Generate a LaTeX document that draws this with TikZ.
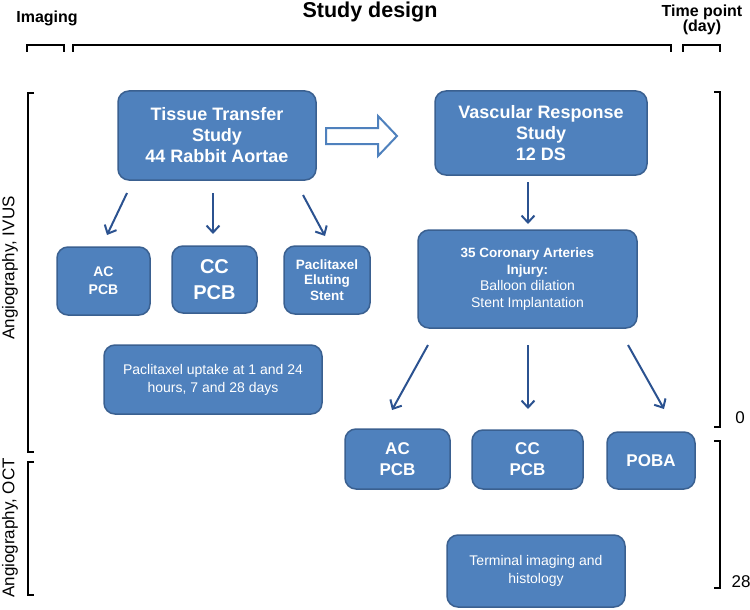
\documentclass[tikz,border=0pt]{standalone}
\usepackage{fontspec}
\setmainfont{Liberation Sans}
\usetikzlibrary{arrows.meta,calc}
\definecolor{boxfill}{HTML}{4F81BD}
\definecolor{boxline}{HTML}{3A6090}
\definecolor{arrowc}{HTML}{2B5290}
\newcommand\myfs[2]{\fontsize{#1}{#2}\selectfont}
\newcommand\regline[1]{{\mdseries\myfs{14}{16.7}#1}}
\tikzset{
  box/.style={draw=boxline, fill=boxfill, line width=1.5pt, rounded corners=11pt,
    text=white, align=center, inner sep=0pt},
  flow/.style={draw=arrowc, line width=2pt,
    -{Straight Barb[length=7pt,width=13pt,line width=2pt]}},
  brk/.style={line width=2pt},
  lbl/.style={inner sep=0pt, text=black},
}
\begin{document}
\begin{tikzpicture}[x=1pt,y=-1pt]
\useasboundingbox (0,0) rectangle (750,610);

% headings
\node[lbl, anchor=base, font=\bfseries\myfs{16}{19}] (himg) at (47,22.5) {Imaging};
\node[lbl, anchor=base, font=\bfseries\myfs{21.5}{25}] (hsd) at (370,18) {Study design};
\node[lbl, anchor=base, font=\bfseries\myfs{16}{19}] (htp) at (702,16.5) {Time point};
\node[lbl, anchor=base, font=\bfseries\myfs{16}{19}] (hday) at (702,32) {(day)};

% top brackets
\draw[brk] (27,52) -- (27,45) -- (64,45) -- (64,52);
\draw[brk] (73,52) -- (73,45) -- (671,45) -- (671,52);
\draw[brk] (683,52) -- (683,45) -- (720,45) -- (720,52);

% left brackets
\draw[brk] (34,93) -- (28,93) -- (28,452) -- (34,452);
\draw[brk] (34,462) -- (28,462) -- (28,595) -- (34,595);
\node[lbl, rotate=90, font=\myfs{17}{20}] (ivus) at (10,268) {Angiography, IVUS};
\node[lbl, rotate=90, font=\myfs{17}{20}] (oct) at (10,528) {Angiography, OCT};

% right brackets
\draw[brk] (714,92) -- (720,92) -- (720,427) -- (714,427);
\draw[brk] (714,441) -- (720,441) -- (720,588) -- (714,588);
\node[lbl, font=\myfs{17}{20}] (t0) at (740,418) {0};
\node[lbl, font=\myfs{17}{20}] (t28) at (741,582) {28};

% boxes
\node[box, minimum width=198, minimum height=89, font=\bfseries\myfs{18}{21}] (tt) at (217,135.5)
  {Tissue Transfer\\Study\\44 Rabbit Aortae};
\node[box, minimum width=212, minimum height=84, font=\bfseries\myfs{18}{21}] (vr) at (541,133)
  {Vascular Response\\Study\\12 DS};
\node[box, minimum width=219, minimum height=98, font=\bfseries\myfs{13.5}{16.7}] (cor) at (527.5,279)
  {35 Coronary Arteries\\Injury:\\\regline{Balloon dilation}\\\regline{Stent Implantation}};
\node[box, minimum width=93, minimum height=68, font=\bfseries\myfs{14}{18}] (ac1) at (103.5,281)
  {AC\\PCB};
\node[box, minimum width=85, minimum height=67, font=\bfseries\myfs{20}{26}] (cc1) at (214.5,279.5)
  {CC\\PCB};
\node[box, minimum width=86, minimum height=68, font=\bfseries\myfs{13.5}{15.5}] (pes) at (327,280)
  {Paclitaxel\\Eluting\\Stent};
\node[box, minimum width=218, minimum height=69, font=\myfs{14}{18}] (up) at (213,379.5)
  {Paclitaxel uptake at 1 and 24\\hours, 7 and 28 days};
\node[box, minimum width=105, minimum height=60, font=\bfseries\myfs{17}{21}] (ac2) at (397.5,459)
  {AC\\PCB};
\node[box, minimum width=111, minimum height=59, font=\bfseries\myfs{17}{21}] (cc2) at (527.5,459.5)
  {CC\\PCB};
\node[box, minimum width=88, minimum height=57, font=\bfseries\myfs{17}{21}] (poba) at (651,460.5)
  {POBA};
\node[box, minimum width=178, minimum height=72, font=\myfs{14}{18}] (term) at (536,571)
  {Terminal imaging and\\histology};

% hollow block arrow between the two studies
\draw[draw=boxfill, line width=2pt, fill=white, line join=miter]
  (326,128) -- (378,128) -- (378,116) -- (397,136) -- (378,156) -- (378,144) -- (326,144) -- cycle;

% arrow end points
\coordinate (a1s) at (127,193); \coordinate (a1e) at (107,235);
\coordinate (a2s) at (213,193); \coordinate (a2e) at (213,234);
\coordinate (a3s) at (303,195); \coordinate (a3e) at (325,236);
\coordinate (a4s) at (528,182); \coordinate (a4e) at (528,224);
\coordinate (a5s) at (428,345); \coordinate (a5e) at (392,410);
\coordinate (a6s) at (528,345); \coordinate (a6e) at (528,409);
\coordinate (a7s) at (628,345); \coordinate (a7e) at (664,409);

\draw[flow] (a1s) -- (a1e);
\draw[flow] (a2s) -- (a2e);
\draw[flow] (a3s) -- (a3e);
\draw[flow] (a4s) -- (a4e);
\draw[flow] (a5s) -- (a5e);
\draw[flow] (a6s) -- (a6e);
\draw[flow] (a7s) -- (a7e);
\end{tikzpicture}
\end{document}
